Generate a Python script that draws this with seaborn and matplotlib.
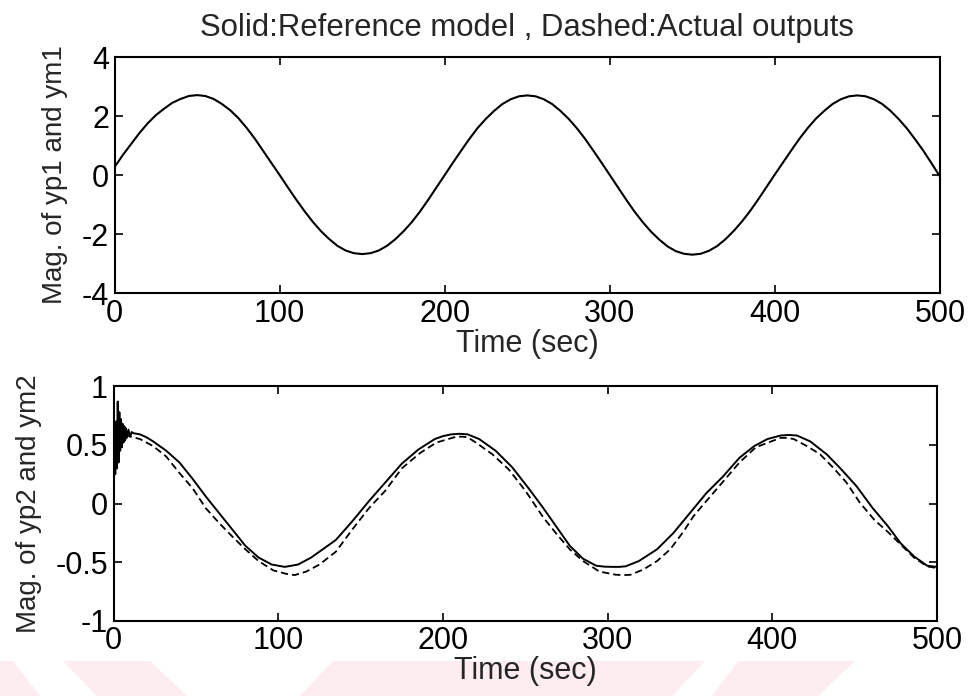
import matplotlib
matplotlib.use("Agg")
import matplotlib.pyplot as plt
from matplotlib.patches import Polygon
import seaborn as sns

# ------------------------------------------------------------
# Datos
# ------------------------------------------------------------

# panel superior: yp1 / ym1 (las dos curvas coinciden), cada 5 s
t_top = [0, 5, 10, 15, 20, 25, 30, 35, 40, 45, 50, 55, 60, 65, 70, 75, 80, 85, 90, 95,
         100, 105, 110, 115, 120, 125, 130, 135, 140, 145, 150, 155, 160, 165, 170, 175, 180, 185, 190, 195,
         200, 205, 210, 215, 220, 225, 230, 235, 240, 245, 250, 255, 260, 265, 270, 275, 280, 285, 290, 295,
         300, 305, 310, 315, 320, 325, 330, 335, 340, 345, 350, 355, 360, 365, 370, 375, 380, 385, 390, 395,
         400, 405, 410, 415, 420, 425, 430, 435, 440, 445, 450, 455, 460, 465, 470, 475, 480, 485, 490, 495,
         500]
ym1 = [0.27, 0.68, 1.05, 1.42, 1.75, 2.03, 2.25, 2.45, 2.58, 2.68, 2.71, 2.68, 2.58, 2.41, 2.2, 1.93, 1.6, 1.23, 0.82, 0.41,
       0.0, -0.42, -0.83, -1.22, -1.58, -1.9, -2.17, -2.4, -2.56, -2.65, -2.68, -2.65, -2.56, -2.4, -2.18, -1.91, -1.6, -1.24, -0.84, -0.42,
       0.0, 0.42, 0.83, 1.23, 1.6, 1.91, 2.18, 2.41, 2.57, 2.67, 2.7, 2.67, 2.57, 2.41, 2.18, 1.91, 1.59, 1.23, 0.83, 0.42,
       0.0, -0.42, -0.84, -1.24, -1.6, -1.92, -2.19, -2.42, -2.58, -2.67, -2.7, -2.67, -2.57, -2.41, -2.18, -1.9, -1.58, -1.22, -0.82, -0.4,
       0.02, 0.43, 0.84, 1.24, 1.6, 1.92, 2.18, 2.41, 2.57, 2.67, 2.7, 2.67, 2.57, 2.41, 2.18, 1.9, 1.58, 1.21, 0.82, 0.39,
       -0.05]

# panel inferior, linea continua (modelo de referencia)
t_ym2 = [0, 0.5, 1, 1.5, 2, 2.5, 3, 3.5, 4, 4.5, 5, 5.5, 6, 6.5, 7, 7.5, 8,
         9, 10, 11, 12,
         16, 20, 24, 32, 40, 48, 56, 64, 72, 80, 88, 96, 104, 112, 120,
         125, 135, 145, 155, 165, 175, 185, 195, 200, 205, 210, 215, 222, 232, 242,
         252, 261, 269, 277, 285, 293, 298, 303, 307, 311, 319, 330, 340, 350, 360,
         370, 380, 389, 397, 405, 410, 415, 423, 433, 441, 451, 461, 470, 478,
         486, 494, 500]
ym2 = [0.2, 0.6, 0.25, 0.7, 0.3, 0.87, 0.35, 0.78, 0.45, 0.72, 0.48, 0.68,
       0.52, 0.66, 0.54, 0.64, 0.56,
       0.63, 0.57, 0.61, 0.6,
       0.59, 0.565, 0.53, 0.45, 0.35, 0.21, 0.06, -0.08, -0.22, -0.36,
       -0.46, -0.52, -0.54, -0.52, -0.46,
       -0.41, -0.31, -0.15, 0.02, 0.18, 0.34, 0.46, 0.55, 0.575, 0.59, 0.595, 0.59, 0.55,
       0.45, 0.31, 0.13, -0.04, -0.2, -0.36, -0.47, -0.53, -0.538, -0.54, -0.54, -0.535,
       -0.49, -0.39, -0.25, -0.08, 0.09, 0.23, 0.39, 0.49, 0.55, 0.58, 0.585, 0.58,
       0.53, 0.42, 0.305, 0.15, -0.04, -0.19, -0.34, -0.45, -0.53, -0.54]

# panel inferior, linea discontinua (salida real)
t_yp2 = [0, 8, 16, 24, 32, 40, 48, 56, 64, 72, 80, 88, 97, 105, 110, 117,
         125, 135, 145, 155, 165, 175, 186, 196, 208, 212, 215, 220, 230, 240,
         250, 261, 269, 277, 285, 295, 305, 310, 314, 322, 330, 338, 346, 352,
         358, 366, 380, 390, 405, 409, 413, 421, 429, 437, 445, 453, 462, 470,
         478, 486, 494, 500]
yp2 = [0.57, 0.58, 0.55, 0.49, 0.40, 0.26, 0.13, -0.04, -0.165, -0.28,
       -0.39, -0.49, -0.57, -0.60, -0.61, -0.58, -0.52, -0.41, -0.22, -0.04,
       0.11, 0.30, 0.43, 0.52, 0.57, 0.57, 0.565, 0.52, 0.42, 0.29, 0.11, -0.12,
       -0.26, -0.39, -0.49, -0.58, -0.607, -0.61, -0.607, -0.56, -0.49, -0.39,
       -0.24, -0.11, -0.01, 0.12, 0.35, 0.48, 0.56, 0.56, 0.55, 0.49, 0.42, 0.305,
       0.18, 0.01, -0.14, -0.24, -0.35, -0.46, -0.536, -0.55]

x_ticks = [0, 100, 200, 300, 400, 500]
y_ticks_top = [-4, -2, 0, 2, 4]
y_ticks_bot = [-1, -0.5, 0, 0.5, 1]
y_labels_bot = ['-1', '-0.5', '0', '0.5', '1']

# marca de agua rosa al pie de la pagina (pixeles de la imagen)
marca = [
    [(0, 661), (13, 661), (40, 696), (0, 696)],
    [(63, 661), (150, 661), (187, 696), (97, 696)],
    [(333, 661), (705, 661), (672, 696), (300, 696)],
    [(738, 661), (855, 661), (818, 696), (712, 696)],
]

# ------------------------------------------------------------
# Grafica
# ------------------------------------------------------------

sns.set_style("ticks")
plt.rcParams['font.family'] = ['Liberation Sans', 'DejaVu Sans']
plt.rcParams['axes.unicode_minus'] = False

W, H = 971, 696
fig = plt.figure(figsize=(W / 100, H / 100), dpi=100)

for poly in marca:
    pts = [(x / W, 1 - y / H) for x, y in poly]
    fig.patches.append(Polygon(pts, closed=True, transform=fig.transFigure,
                               facecolor='#fdedf0', edgecolor='none', zorder=-5))

ax1 = fig.add_axes([0.118, 0.579, 0.850, 0.339])
ax2 = fig.add_axes([0.117, 0.108, 0.848, 0.337])
for ax in (ax1, ax2):
    ax.set_zorder(2)
    ax.patch.set_alpha(0)

sns.lineplot(x=t_top, y=ym1, ax=ax1, color='black', lw=1.5)
sns.lineplot(x=t_yp2, y=yp2, ax=ax2, color='black', lw=1.3,
             linestyle=(0, (4, 2.2)))
sns.lineplot(x=t_ym2, y=ym2, ax=ax2, color='black', lw=1.4)

ax1.set_ylim(-4, 4)
ax1.set_yticks(y_ticks_top)
ax2.set_ylim(-1, 1)
ax2.set_yticks(y_ticks_bot)
ax2.set_yticklabels(y_labels_bot)

for ax in (ax1, ax2):
    ax.set_xlim(0, 500)
    ax.set_xticks(x_ticks)
    ax.tick_params(direction='in', length=6, width=1.2, top=True, right=True,
                   labelsize=22, pad=4, colors='black')
    for s in ax.spines.values():
        s.set_visible(True)
        s.set_linewidth(1.5)
        s.set_color('black')
    ax.set_xlabel('Time (sec)', fontsize=22, labelpad=0)

ax1.set_ylabel('Mag. of yp1 and ym1', fontsize=20, labelpad=10)
ax2.set_ylabel('Mag. of yp2 and ym2', fontsize=20, labelpad=10)
ax1.set_title('Solid:Reference model , Dashed:Actual outputs', fontsize=22.4, pad=15)

fig.savefig('out.png', dpi=100)
